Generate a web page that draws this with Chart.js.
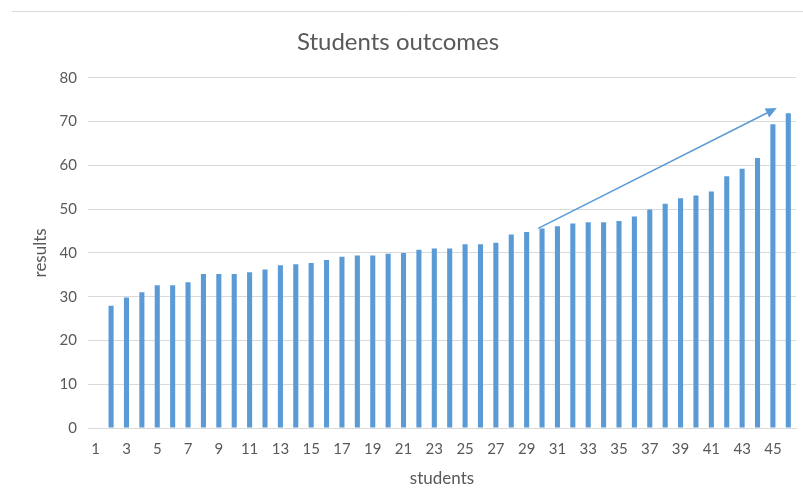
<!DOCTYPE html>
<html>
<head>
<meta charset="utf-8">
<script src="https://cdn.jsdelivr.net/npm/chart.js@4.4.1/dist/chart.umd.min.js"></script>
<style>
  html, body { margin: 0; padding: 0; background: #ffffff; }
  #wrap { position: relative; width: 803px; height: 504px; }
</style>
</head>
<body>
<div id="wrap"><canvas id="c" width="803" height="504"></canvas></div>
<script>
// ---- data ----
const categories = ["1","2","3","4","5","6","7","8","9","10","11","12","13","14","15","16","17","18","19","20","21","22","23","24","25","26","27","28","29","30","31","32","33","34","35","36","37","38","39","40","41","42","43","44","45","46"];
const results = [null, 27.9, 29.8, 31.0, 32.6, 32.6, 33.3, 35.2, 35.2, 35.2, 35.6, 36.2, 37.2, 37.4, 37.7, 38.4, 39.1, 39.4, 39.4, 39.8, 40.0, 40.7, 41.0, 41.0, 42.0, 42.0, 42.3, 44.2, 44.8, 45.6, 46.1, 46.7, 47.0, 47.0, 47.3, 48.3, 49.9, 51.2, 52.5, 53.1, 54.0, 57.5, 59.2, 61.7, 69.4, 71.9];
const yTicks = [0, 10, 20, 30, 40, 50, 60, 70, 80];
// trend arrow in data space: [category position (index), value]
const arrowStart = [28.75, 45.6];
const arrowEnd = [44.25, 73.1];

const FONT = "Lato, 'Open Sans', sans-serif";
const TXT = "#595959";
const BAR = "#5b9bd5";

const frame = {
  id: 'frame',
  beforeDraw(chart) {
    const ctx = chart.ctx;
    ctx.save();
    ctx.fillStyle = '#ffffff';
    ctx.fillRect(0, 0, chart.width, chart.height);
    ctx.strokeStyle = '#d9d9d9';
    ctx.lineWidth = 1;
    ctx.beginPath();
    ctx.moveTo(12, 11.5);
    ctx.lineTo(chart.width, 11.5);
    ctx.stroke();
    ctx.restore();
  }
};

const arrow = {
  id: 'arrow',
  afterDatasetsDraw(chart) {
    const x = chart.scales.x, y = chart.scales.y, ctx = chart.ctx;
    const x1 = x.getPixelForValue(arrowStart[0]), y1 = y.getPixelForValue(arrowStart[1]);
    const x2 = x.getPixelForValue(arrowEnd[0]), y2 = y.getPixelForValue(arrowEnd[1]);
    const ang = Math.atan2(y2 - y1, x2 - x1);
    const len = 11, half = 5;
    ctx.save();
    ctx.strokeStyle = BAR;
    ctx.fillStyle = BAR;
    ctx.lineWidth = 1.5;
    ctx.beginPath();
    ctx.moveTo(x1, y1);
    ctx.lineTo(x2 - len * Math.cos(ang), y2 - len * Math.sin(ang));
    ctx.stroke();
    const bx = x2 - len * Math.cos(ang), by = y2 - len * Math.sin(ang);
    ctx.beginPath();
    ctx.moveTo(x2, y2);
    ctx.lineTo(bx + half * Math.sin(ang), by - half * Math.cos(ang));
    ctx.lineTo(bx - half * Math.sin(ang), by + half * Math.cos(ang));
    ctx.closePath();
    ctx.fill();
    ctx.restore();
  }
};

new Chart(document.getElementById('c'), {
  type: 'bar',
  data: {
    labels: categories,
    datasets: [{
      label: 'results',
      data: results,
      backgroundColor: BAR,
      borderWidth: 0,
      barPercentage: 0.33,
      categoryPercentage: 1.0
    }]
  },
  options: {
    responsive: false,
    animation: false,
    devicePixelRatio: 1,
    layout: { padding: { left: 0, right: 7, top: 0, bottom: 0 } },
    plugins: {
      legend: { display: false },
      tooltip: { enabled: false },
      title: {
        display: true,
        text: 'Students outcomes',
        color: TXT,
        font: { family: FONT, size: 24, weight: 'normal' },
        padding: { top: 28, bottom: 21 }
      }
    },
    scales: {
      x: {
        offset: true,
        grid: { display: false, drawTicks: false },
        border: { display: true, color: '#d9d9d9', width: 1 },
        ticks: {
          autoSkip: false,
          maxRotation: 0,
          minRotation: 0,
          padding: 12,
          color: TXT,
          font: { family: FONT, size: 15 },
          callback: (v, i) => (i % 2 === 0 ? categories[i] : '')
        },
        title: {
          display: true,
          text: 'students',
          color: TXT,
          font: { family: FONT, size: 17 },
          padding: { top: 0, bottom: 15 }
        },
        afterFit: s => { s.height = 76; }
      },
      y: {
        min: 0,
        max: 80,
        afterBuildTicks: s => { s.ticks = yTicks.map(v => ({ value: v })); },
        grid: { color: '#d9d9d9', lineWidth: 1, drawTicks: false },
        border: { display: false },
        ticks: {
          padding: 11,
          color: TXT,
          font: { family: FONT, size: 15 }
        },
        title: {
          display: true,
          text: 'results',
          color: TXT,
          font: { family: FONT, size: 17 },
          padding: { top: 30, bottom: 0 }
        },
        afterFit: s => { s.width = 88; }
      }
    }
  },
  plugins: [frame, arrow]
});
</script>
</body>
</html>
